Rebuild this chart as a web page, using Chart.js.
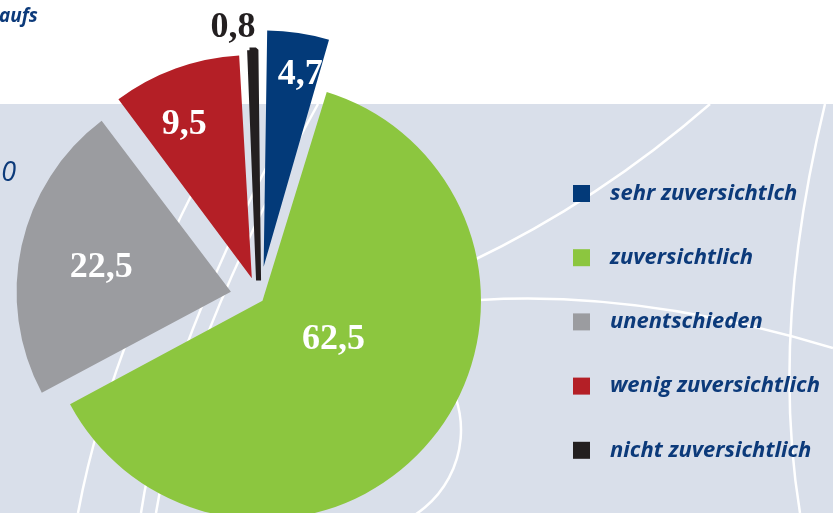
<!DOCTYPE html>
<html lang="de">
<head>
<meta charset="UTF-8">
<title>Zuversicht</title>
<script src="https://cdn.jsdelivr.net/npm/chart.js"></script>
<style>
  html, body { margin: 0; padding: 0; background: #fff; overflow: hidden; }
</style>
</head>
<body>
<canvas id="myChart" width="833" height="513"></canvas>
<script>
// Daten
const categories = ['sehr zuversichtlch', 'zuversichtlich', 'unentschieden', 'wenig zuversichtlich', 'nicht zuversichtlich'];
const shares = [4.7, 62.5, 22.5, 9.5, 0.8];
const valueLabels = shares.map(v => v.toFixed(1).replace('.', ','));

const sliceColors = ['#033a79', '#8cc63f', '#9b9ca0', '#b41f26', '#231f20'];
const textBlue = '#0c3a7a';

// Hintergrund mit Flaeche und weissen Linien
const backdrop = {
    id: 'backdrop',
    beforeDraw(chart) {
        const { ctx, width, height } = chart;
        ctx.save();
        ctx.fillStyle = '#ffffff';
        ctx.fillRect(0, 0, width, height);
        ctx.fillStyle = '#d9dfea';
        ctx.fillRect(0, 104, width, height - 104);

        ctx.strokeStyle = '#ffffff';
        ctx.lineWidth = 2.5;
        const curves = [
            [78, 513, 112, 330, 240, 104],
            [141, 513, 165, 350, 300, 104],
            [156, 513, 182, 350, 318, 104],
            [470, 262, 600, 200, 710, 104],
            [825, 104, 770, 330, 800, 513],
            [480, 300, 640, 290, 833, 348]
        ];
        curves.forEach(c => {
            ctx.beginPath();
            ctx.moveTo(c[0], c[1]);
            ctx.quadraticCurveTo(c[2], c[3], c[4], c[5]);
            ctx.stroke();
        });
        ctx.beginPath();
        ctx.arc(360, 430, 101, -0.7, 1.6);
        ctx.stroke();

        // Reste von Titel und Achse links
        ctx.fillStyle = textBlue;
        ctx.textBaseline = 'alphabetic';
        ctx.textAlign = 'left';
        ctx.font = 'italic 700 19px "Open Sans"';
        ctx.fillText('aufs', -1, 22);
        ctx.textAlign = 'right';
        ctx.font = 'italic 400 27px "Open Sans"';
        ctx.fillText('0', 16, 181);
        ctx.restore();
    }
};

// Werte an den Segmenten
const sliceLabels = {
    id: 'sliceLabels',
    afterDatasetsDraw(chart, args, opts) {
        const { ctx } = chart;
        const meta = chart.getDatasetMeta(0);
        ctx.save();
        ctx.font = 'bold 36px "Liberation Serif"';
        ctx.textAlign = 'center';
        ctx.textBaseline = 'middle';
        meta.data.forEach((arc, i) => {
            const { x, y, startAngle, endAngle, outerRadius } =
                arc.getProps(['x', 'y', 'startAngle', 'endAngle', 'outerRadius'], true);
            const a = startAngle + (endAngle - startAngle) * opts.angle[i];
            const r = outerRadius * opts.radius[i];
            ctx.fillStyle = opts.colors[i];
            ctx.fillText(valueLabels[i], x + Math.cos(a) * r, y + Math.sin(a) * r);
        });
        ctx.restore();
    }
};

// Legende rechts
const sideLegend = {
    id: 'sideLegend',
    afterDraw(chart, args, opts) {
        const { ctx } = chart;
        const colors = chart.data.datasets[0].backgroundColor;
        ctx.save();
        ctx.font = 'italic 700 22px "Open Sans"';
        ctx.textAlign = 'left';
        ctx.textBaseline = 'middle';
        chart.data.labels.forEach((label, i) => {
            const cy = opts.top + i * opts.step;
            ctx.fillStyle = colors[i];
            ctx.fillRect(opts.x, cy - 8.5, 17, 17);
            ctx.fillStyle = textBlue;
            ctx.fillText(label, opts.x + 37, cy);
        });
        ctx.restore();
    }
};

const config = {
    type: 'pie',
    data: {
        labels: categories,
        datasets: [{
            data: shares,
            backgroundColor: sliceColors,
            borderColor: sliceColors,
            borderWidth: [0, 0, 0, 0, 5],
            offset: [126, 18, 115, 84, 70]
        }]
    },
    options: {
        responsive: false,
        animation: false,
        events: [],
        radius: 214,
        clip: false,
        layout: { padding: { left: 0, right: 315, top: 83, bottom: 0 } },
        plugins: {
            legend: { display: false },
            tooltip: { enabled: false },
            sliceLabels: {
                angle: [0.62, 0.456, 0.48, 0.40, -0.9],
                radius: [1.06, 0.40, 0.75, 0.88, 1.27],
                colors: ['#ffffff', '#ffffff', '#ffffff', '#ffffff', '#231f20']
            },
            sideLegend: { x: 573, top: 193.5, step: 64.2 }
        }
    },
    plugins: [backdrop, sliceLabels, sideLegend]
};

new Chart(document.getElementById('myChart').getContext('2d'), config);
</script>
</body>
</html>
